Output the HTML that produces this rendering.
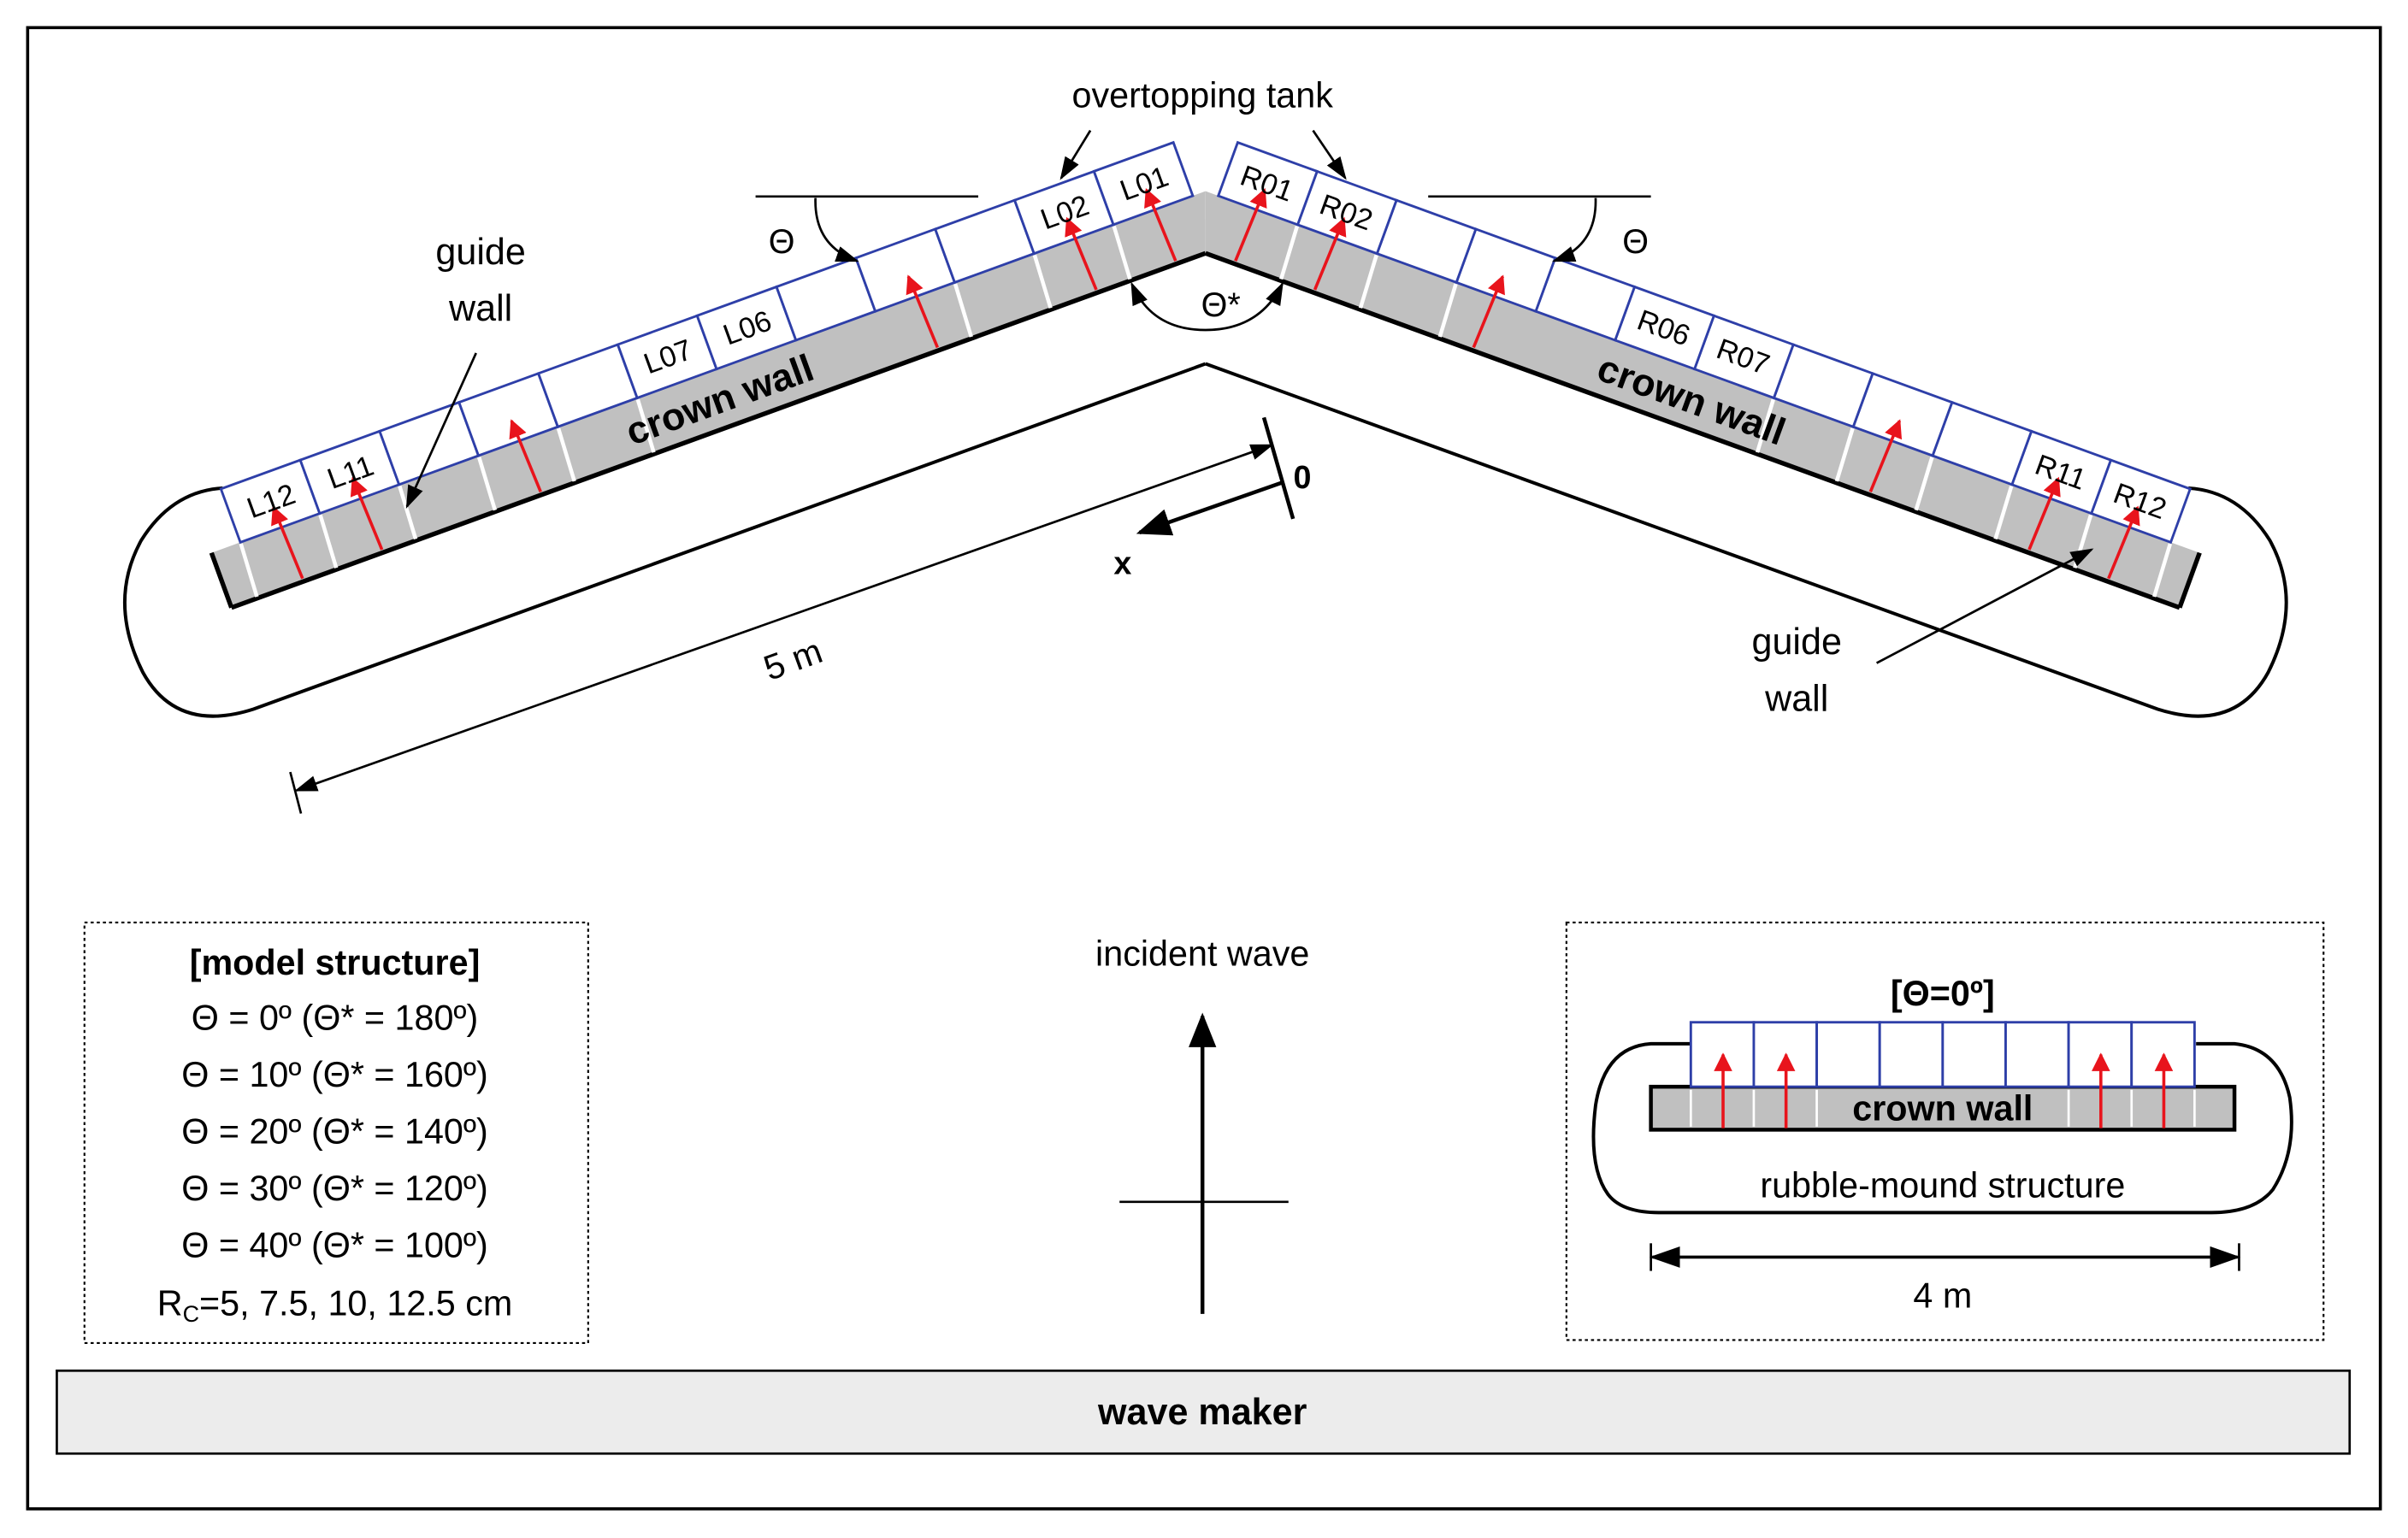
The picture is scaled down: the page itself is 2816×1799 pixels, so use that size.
<!DOCTYPE html>
<html><head><meta charset="utf-8"><style>html,body{margin:0;padding:0;background:#fff;}svg{display:block}</style></head>
<body>
<svg width="2816" height="1799" viewBox="0 0 1568 1002" preserveAspectRatio="none" xmlns="http://www.w3.org/2000/svg" font-family="'Liberation Sans', sans-serif">
<defs>
<marker id="ra" viewBox="0 0 10 10" refX="9" refY="5" markerWidth="6" markerHeight="6" orient="auto" markerUnits="strokeWidth"><path d="M0,0 L10,5 L0,10 z" fill="#e8141c"/></marker>
<marker id="ba" viewBox="0 0 10 10" refX="9" refY="5" markerWidth="10" markerHeight="10" orient="auto-start-reverse" markerUnits="strokeWidth"><path d="M0,1.5 L10,5 L0,8.5 z" fill="#000"/></marker>
<marker id="bs" viewBox="0 0 10 10" refX="9" refY="5" markerWidth="9" markerHeight="9" orient="auto" markerUnits="strokeWidth"><path d="M0,1 L10,5 L0,9 z" fill="#000"/></marker>
</defs>
<rect x="0" y="0" width="1568" height="1002" fill="#fff"/>
<rect x="18" y="18" width="1532" height="965" fill="none" stroke="#000" stroke-width="2"/>

<path d="M785,237 L165,462 Q115,478 93,438 Q70,392 92,352 Q112,320 145,318" fill="none" stroke="#000" stroke-width="2.2"/>
<path d="M785,237 L1405,462 Q1455,478 1477,438 Q1500,392 1478,352 Q1458,320 1425,318" fill="none" stroke="#000" stroke-width="2.2"/>

<g transform="translate(785,165) rotate(-20)">
<polygon points="-675,-38 -675,0 0,0 13.8,-38" fill="#c0c0c0"/>
<line x1="-675" y1="0" x2="0" y2="0" stroke="#000" stroke-width="3"/>
<line x1="-675" y1="-38" x2="-675" y2="0" stroke="#000" stroke-width="3"/>
<g stroke="#fff" stroke-width="2.5">
<line x1="-655" y1="-37" x2="-657" y2="-1"/><line x1="-600" y1="-37" x2="-602" y2="-1"/><line x1="-545" y1="-37" x2="-547" y2="-1"/><line x1="-490" y1="-37" x2="-492" y2="-1"/><line x1="-435" y1="-37" x2="-437" y2="-1"/><line x1="-380" y1="-37" x2="-382" y2="-1"/><line x1="-160" y1="-37" x2="-162" y2="-1"/><line x1="-105" y1="-37" x2="-107" y2="-1"/><line x1="-50" y1="-37" x2="-52" y2="-1"/>
</g>
<g fill="#fff" stroke="#2e3fa8" stroke-width="1.6">
<rect x="-655" y="-75" width="55" height="37"/><rect x="-600" y="-75" width="55" height="37"/><rect x="-545" y="-75" width="55" height="37"/><rect x="-490" y="-75" width="55" height="37"/><rect x="-435" y="-75" width="55" height="37"/><rect x="-380" y="-75" width="55" height="37"/><rect x="-325" y="-75" width="55" height="37"/><rect x="-270" y="-75" width="55" height="37"/><rect x="-215" y="-75" width="55" height="37"/><rect x="-160" y="-75" width="55" height="37"/><rect x="-105" y="-75" width="55" height="37"/><rect x="-50" y="-75" width="55" height="37"/>
</g>
<g stroke="#e8141c" stroke-width="2" marker-end="url(#ra)">
<line x1="-625" y1="-2" x2="-627" y2="-52"/><line x1="-570" y1="-2" x2="-572" y2="-52"/><line x1="-460" y1="-2" x2="-462" y2="-52"/><line x1="-185" y1="-2" x2="-187" y2="-52"/><line x1="-75" y1="-2" x2="-77" y2="-52"/><line x1="-20" y1="-2" x2="-22" y2="-52"/>
</g>
<g font-size="19" text-anchor="middle" fill="#000">
<text x="-627" y="-50">L12</text><text x="-572" y="-50">L11</text><text x="-352" y="-50">L07</text><text x="-297" y="-50">L06</text><text x="-77" y="-50">L02</text><text x="-22" y="-50">L01</text>
</g>
<text x="-330" y="-10" font-size="25" font-weight="bold" text-anchor="middle">crown wall</text>
</g>

<g transform="translate(785,165) rotate(20)">
<polygon points="-13.8,-38 0,0 675,0 675,-38" fill="#c0c0c0"/>
<line x1="0" y1="0" x2="675" y2="0" stroke="#000" stroke-width="3"/>
<line x1="675" y1="-38" x2="675" y2="0" stroke="#000" stroke-width="3"/>
<g stroke="#fff" stroke-width="2.5">
<line x1="655" y1="-37" x2="657" y2="-1"/><line x1="600" y1="-37" x2="602" y2="-1"/><line x1="545" y1="-37" x2="547" y2="-1"/><line x1="490" y1="-37" x2="492" y2="-1"/><line x1="435" y1="-37" x2="437" y2="-1"/><line x1="380" y1="-37" x2="382" y2="-1"/><line x1="160" y1="-37" x2="162" y2="-1"/><line x1="105" y1="-37" x2="107" y2="-1"/><line x1="50" y1="-37" x2="52" y2="-1"/>
</g>
<g fill="#fff" stroke="#2e3fa8" stroke-width="1.6">
<rect x="600" y="-75" width="55" height="37"/><rect x="545" y="-75" width="55" height="37"/><rect x="490" y="-75" width="55" height="37"/><rect x="435" y="-75" width="55" height="37"/><rect x="380" y="-75" width="55" height="37"/><rect x="325" y="-75" width="55" height="37"/><rect x="270" y="-75" width="55" height="37"/><rect x="215" y="-75" width="55" height="37"/><rect x="160" y="-75" width="55" height="37"/><rect x="105" y="-75" width="55" height="37"/><rect x="50" y="-75" width="55" height="37"/><rect x="-5" y="-75" width="55" height="37"/>
</g>
<g stroke="#e8141c" stroke-width="2" marker-end="url(#ra)">
<line x1="625" y1="-2" x2="627" y2="-52"/><line x1="570" y1="-2" x2="572" y2="-52"/><line x1="460" y1="-2" x2="462" y2="-52"/><line x1="185" y1="-2" x2="187" y2="-52"/><line x1="75" y1="-2" x2="77" y2="-52"/><line x1="20" y1="-2" x2="22" y2="-52"/>
</g>
<g font-size="19" text-anchor="middle" fill="#000">
<text x="627" y="-50">R12</text><text x="572" y="-50">R11</text><text x="352" y="-50">R07</text><text x="297" y="-50">R06</text><text x="77" y="-50">R02</text><text x="22" y="-50">R01</text>
</g>
<text x="330" y="-10" font-size="25" font-weight="bold" text-anchor="middle">crown wall</text>
</g>

<text x="783" y="70" font-size="23" text-anchor="middle">overtopping tank</text>
<line x1="710" y1="85" x2="691" y2="116" stroke="#000" stroke-width="1.5" marker-end="url(#ba)"/>
<line x1="855" y1="85" x2="876" y2="116" stroke="#000" stroke-width="1.5" marker-end="url(#ba)"/>

<line x1="492" y1="128" x2="637" y2="128" stroke="#000" stroke-width="1.5"/>
<path d="M531,129 Q530,160 558,170" fill="none" stroke="#000" stroke-width="1.5" marker-end="url(#ba)"/>
<text x="509" y="165" font-size="22" text-anchor="middle">Θ</text>
<line x1="930" y1="128" x2="1075" y2="128" stroke="#000" stroke-width="1.5"/>
<path d="M1039,129 Q1040,160 1012,170" fill="none" stroke="#000" stroke-width="1.5" marker-end="url(#ba)"/>
<text x="1065" y="165" font-size="22" text-anchor="middle">Θ</text>
<path d="M737,185 Q750,215 785,215 Q820,215 835,185" fill="none" stroke="#000" stroke-width="1.5" marker-start="url(#ba)" marker-end="url(#ba)"/>
<text x="795" y="206" font-size="22" text-anchor="middle">Θ*</text>

<text x="313" y="172" font-size="24" text-anchor="middle">guide</text>
<text x="313" y="209" font-size="24" text-anchor="middle">wall</text>
<line x1="310" y1="230" x2="265" y2="330" stroke="#000" stroke-width="1.5" marker-end="url(#ba)"/>
<text x="1170" y="426" font-size="24" text-anchor="middle">guide</text>
<text x="1170" y="463" font-size="24" text-anchor="middle">wall</text>
<line x1="1222" y1="432" x2="1362" y2="358" stroke="#000" stroke-width="1.5" marker-end="url(#ba)"/>

<line x1="823" y1="272" x2="842" y2="338" stroke="#000" stroke-width="2.5"/>
<line x1="189" y1="503" x2="196" y2="530" stroke="#000" stroke-width="1.5"/>
<line x1="193" y1="515" x2="828" y2="290" stroke="#000" stroke-width="1.5" marker-start="url(#ba)" marker-end="url(#ba)"/>
<text x="0" y="0" font-size="23" text-anchor="middle" transform="translate(519,437) rotate(-20)">5 m</text>
<line x1="836" y1="314" x2="742" y2="347" stroke="#000" stroke-width="2.5" marker-end="url(#bs)"/>
<text x="848" y="318" font-size="21" font-weight="bold" text-anchor="middle">0</text>
<text x="731" y="374" font-size="21" font-weight="bold" text-anchor="middle">x</text>

<rect x="55" y="601" width="328" height="274" fill="none" stroke="#000" stroke-width="1.2" stroke-dasharray="2,2"/>
<g font-size="23" text-anchor="middle">
<text x="218" y="635" font-weight="bold">[model structure]</text>
<text x="218" y="671">Θ =   0º (Θ* = 180º)</text>
<text x="218" y="708">Θ = 10º (Θ* = 160º)</text>
<text x="218" y="745">Θ = 20º (Θ* = 140º)</text>
<text x="218" y="782">Θ = 30º (Θ* = 120º)</text>
<text x="218" y="819">Θ = 40º (Θ* = 100º)</text>
<text x="218" y="857">R<tspan font-size="15" dy="4">C</tspan><tspan dy="-4">=5, 7.5, 10, 12.5 cm</tspan></text>
</g>

<text x="783" y="629" font-size="23" text-anchor="middle">incident wave</text>
<line x1="783" y1="856" x2="783" y2="662" stroke="#000" stroke-width="2.5" marker-end="url(#bs)"/>
<line x1="729" y1="783" x2="839" y2="783" stroke="#000" stroke-width="1.5"/>

<rect x="1020" y="601" width="493" height="272" fill="none" stroke="#000" stroke-width="1.2" stroke-dasharray="2,2"/>
<text x="1265" y="655" font-size="23" font-weight="bold" text-anchor="middle">[Θ=0º]</text>
<path d="M1101,680 L1075,680 Q1045,682 1039,720 Q1034,760 1047,778 Q1056,790 1080,790 L1440,790 Q1468,790 1480,775 Q1496,750 1491,715 Q1484,683 1455,680 L1430,680" fill="none" stroke="#000" stroke-width="2.2"/>
<rect x="1075" y="708" width="380" height="28" fill="#c0c0c0" stroke="#000" stroke-width="2.5"/>
<g stroke="#fff" stroke-width="1.5">
<line x1="1101" y1="710" x2="1101" y2="734"/><line x1="1142" y1="710" x2="1142" y2="734"/><line x1="1183" y1="710" x2="1183" y2="734"/><line x1="1347" y1="710" x2="1347" y2="734"/><line x1="1388" y1="710" x2="1388" y2="734"/><line x1="1429" y1="710" x2="1429" y2="734"/>
</g>
<g fill="#fff" stroke="#2e3fa8" stroke-width="1.6">
<rect x="1101" y="666" width="41" height="42"/><rect x="1142" y="666" width="41" height="42"/><rect x="1183" y="666" width="41" height="42"/><rect x="1224" y="666" width="41" height="42"/><rect x="1265" y="666" width="41" height="42"/><rect x="1306" y="666" width="41" height="42"/><rect x="1347" y="666" width="41" height="42"/><rect x="1388" y="666" width="41" height="42"/>
</g>
<text x="1265" y="730" font-size="23" font-weight="bold" text-anchor="middle">crown wall</text>
<g stroke="#e8141c" stroke-width="2" marker-end="url(#ra)">
<line x1="1122" y1="735" x2="1122" y2="687"/><line x1="1163" y1="735" x2="1163" y2="687"/><line x1="1368" y1="735" x2="1368" y2="687"/><line x1="1409" y1="735" x2="1409" y2="687"/>
</g>
<text x="1265" y="780" font-size="23" text-anchor="middle">rubble-mound structure</text>
<line x1="1075" y1="810" x2="1075" y2="828" stroke="#000" stroke-width="1.5"/>
<line x1="1458" y1="810" x2="1458" y2="828" stroke="#000" stroke-width="1.5"/>
<line x1="1076" y1="819" x2="1457" y2="819" stroke="#000" stroke-width="2" marker-start="url(#ba)" marker-end="url(#ba)"/>
<text x="1265" y="852" font-size="23" text-anchor="middle">4 m</text>

<rect x="37" y="893" width="1493" height="54" fill="#ececec" stroke="#000" stroke-width="1.5"/>
<text x="783" y="928" font-size="24" font-weight="bold" text-anchor="middle">wave maker</text>
</svg>
</body></html>
